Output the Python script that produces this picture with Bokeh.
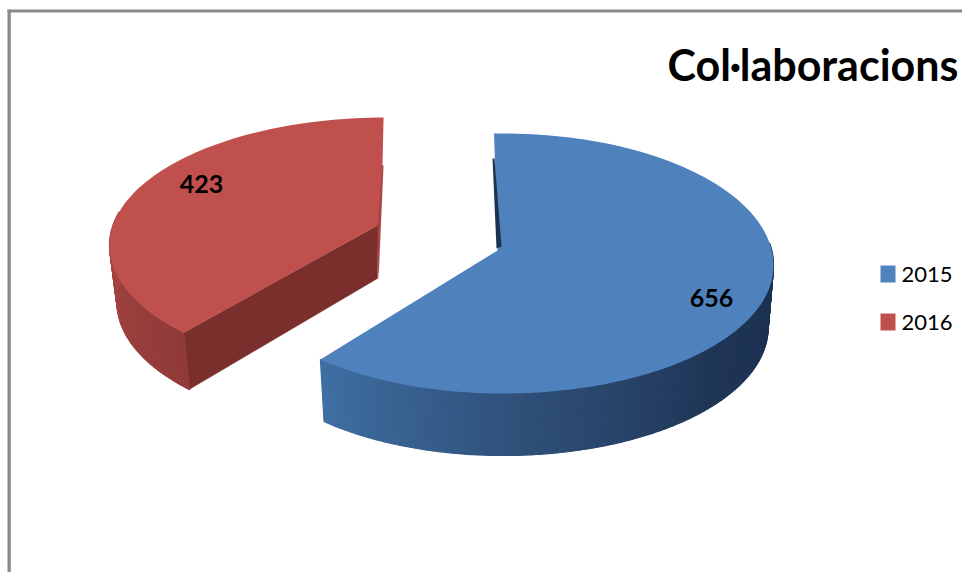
import numpy as np
from bokeh.plotting import figure
from bokeh.models import Range1d
from bokeh.core.properties import value
from bokeh.embed import file_html
from bokeh.resources import INLINE

TITLE = "Col·laboracions"
years = ["2015", "2016"]
counts = [656, 423]
top_colors = ["#4f81bd", "#c0504d"]

FONT = value("Lato")
total = sum(counts)
sweep = [c / total * 360 for c in counts]
start = [0.0, sweep[0]]

# pixel layout of the projected, exploded slices
blue = dict(cx=503, cy=265, rx=270, ry_up=132, ry_dn=128, par0=-2.0, k=224.7 / sweep[0],
            a0=start[0], apex=(497, 250), depth=62, shrink=0.98, dx=0)
red = dict(cx=385, cy=245, rx=276, ry_up=128, ry_dn=128, par0=227.0, k=132.6 / sweep[1],
           a0=start[1], apex=(377, 225), depth=57, shrink=0.98, dx=2)


def rim(g, a0, a1, n, drop=0.0, shrink=1.0):
    """Slice angles (deg clockwise from 12 o'clock) to pixels."""
    ang = np.linspace(a0, a1, n)
    t = np.radians(g["par0"] + (ang - g["a0"]) * g["k"])
    c = np.cos(t)
    ry = np.where(c >= 0, g["ry_up"], g["ry_dn"])
    x = g["cx"] + (g["dx"] if drop > 0 else 0) + g["rx"] * shrink * np.sin(t)
    y = g["cy"] - ry * c + drop
    return x, y


def mix(c0, c1, f):
    a = [int(c0[i:i + 2], 16) for i in (1, 3, 5)]
    b = [int(c1[i:i + 2], 16) for i in (1, 3, 5)]
    return "#%02x%02x%02x" % tuple(int(round(u + (v - u) * f)) for u, v in zip(a, b))


W, H = 962, 572
p = figure(width=W, height=H, x_range=Range1d(0, W), y_range=Range1d(H, 0),
           toolbar_location=None, output_backend="svg", min_border=0,
           background_fill_color="white", border_fill_color="white")
p.axis.visible = False
p.grid.visible = False
p.outline_line_color = None

# chart frame
p.quad(left=[7], right=[10.3], top=[9], bottom=[H], fill_color="#8a8a8a", line_color=None)
p.quad(left=[7], right=[W], top=[9], bottom=[12], fill_color="#8a8a8a", line_color=None)


def wall(g, a0, a1, n, stops):
    xs, ys, cols = [], [], []
    xt, yt = rim(g, a0, a1, n + 1)
    xb, yb = rim(g, a0, a1, n + 1, drop=g["depth"], shrink=g["shrink"])
    pos = np.linspace(0, 1, len(stops))
    for i in range(n):
        xs.append([xt[i], xt[i + 1], xb[i + 1], xb[i]])
        ys.append([yt[i], yt[i + 1], yb[i + 1], yb[i]])
        f = i / (n - 1)
        j = min(int(np.searchsorted(pos, f, side="right")) - 1, len(stops) - 2)
        cols.append(mix(stops[j], stops[j + 1], (f - pos[j]) / (pos[j + 1] - pos[j])))
    p.patches(xs, ys, fill_color=cols, line_color=cols, line_width=1.2)


# --- 2016 slice ---
xr, yr = rim(red, start[1], start[1] + sweep[1], 90)
tipx, tipy = xr[0], yr[0]
ax, ay = red["apex"]
p.patch([383, 378, 376, 381], [165, 280, 225, 165], fill_color="#a84442", line_color=None)
p.patch([tipx, ax, ax, tipx + 5], [tipy, ay, ay + 53, tipy + 57], fill_color="#7b2f2d",
        line_color="#7b2f2d", line_width=0.5)
wall(red, start[1], start[1] + 62, 60, ["#903b39", "#a94543"])
p.patch(np.concatenate([xr, [382, ax]]), np.concatenate([yr, [165, ay]]),
        fill_color=top_colors[1], line_color=None)

# --- 2015 slice ---
xb, yb = rim(blue, start[0], start[0] + sweep[0], 140)
ax, ay = blue["apex"]
wall(blue, 80, sweep[0], 220, ["#1c3050", "#1f3555", "#2f4f78", "#3f6fa3"])
p.patch(np.append(xb, ax), np.append(yb, ay), fill_color=top_colors[0], line_color=None)
p.patch([492, 496, 501, 494], [158, 248, 246, 158], fill_color="#1c3350", line_color=None)

# value labels
p.text(x=[711, 201], y=[297, 183], text=[str(c) for c in counts], text_font=FONT,
       text_font_size="25px", text_font_style="bold", text_align="center",
       text_baseline="middle", text_color="black")

# legend
p.quad(left=[880, 880], right=[895, 895], top=[265, 313], bottom=[282, 330],
       fill_color=top_colors, line_color=None)
p.text(x=[901, 901], y=[274, 322], text=years, text_font=FONT, text_font_size="22px",
       text_align="left", text_baseline="middle", text_color="black")

# title
p.text(x=[667], y=[64], text=[TITLE], text_font=FONT, text_font_size="43px",
       text_font_style="bold", text_align="left", text_baseline="middle", text_color="black")

open("out.html", "w").write(file_html(p, INLINE))
